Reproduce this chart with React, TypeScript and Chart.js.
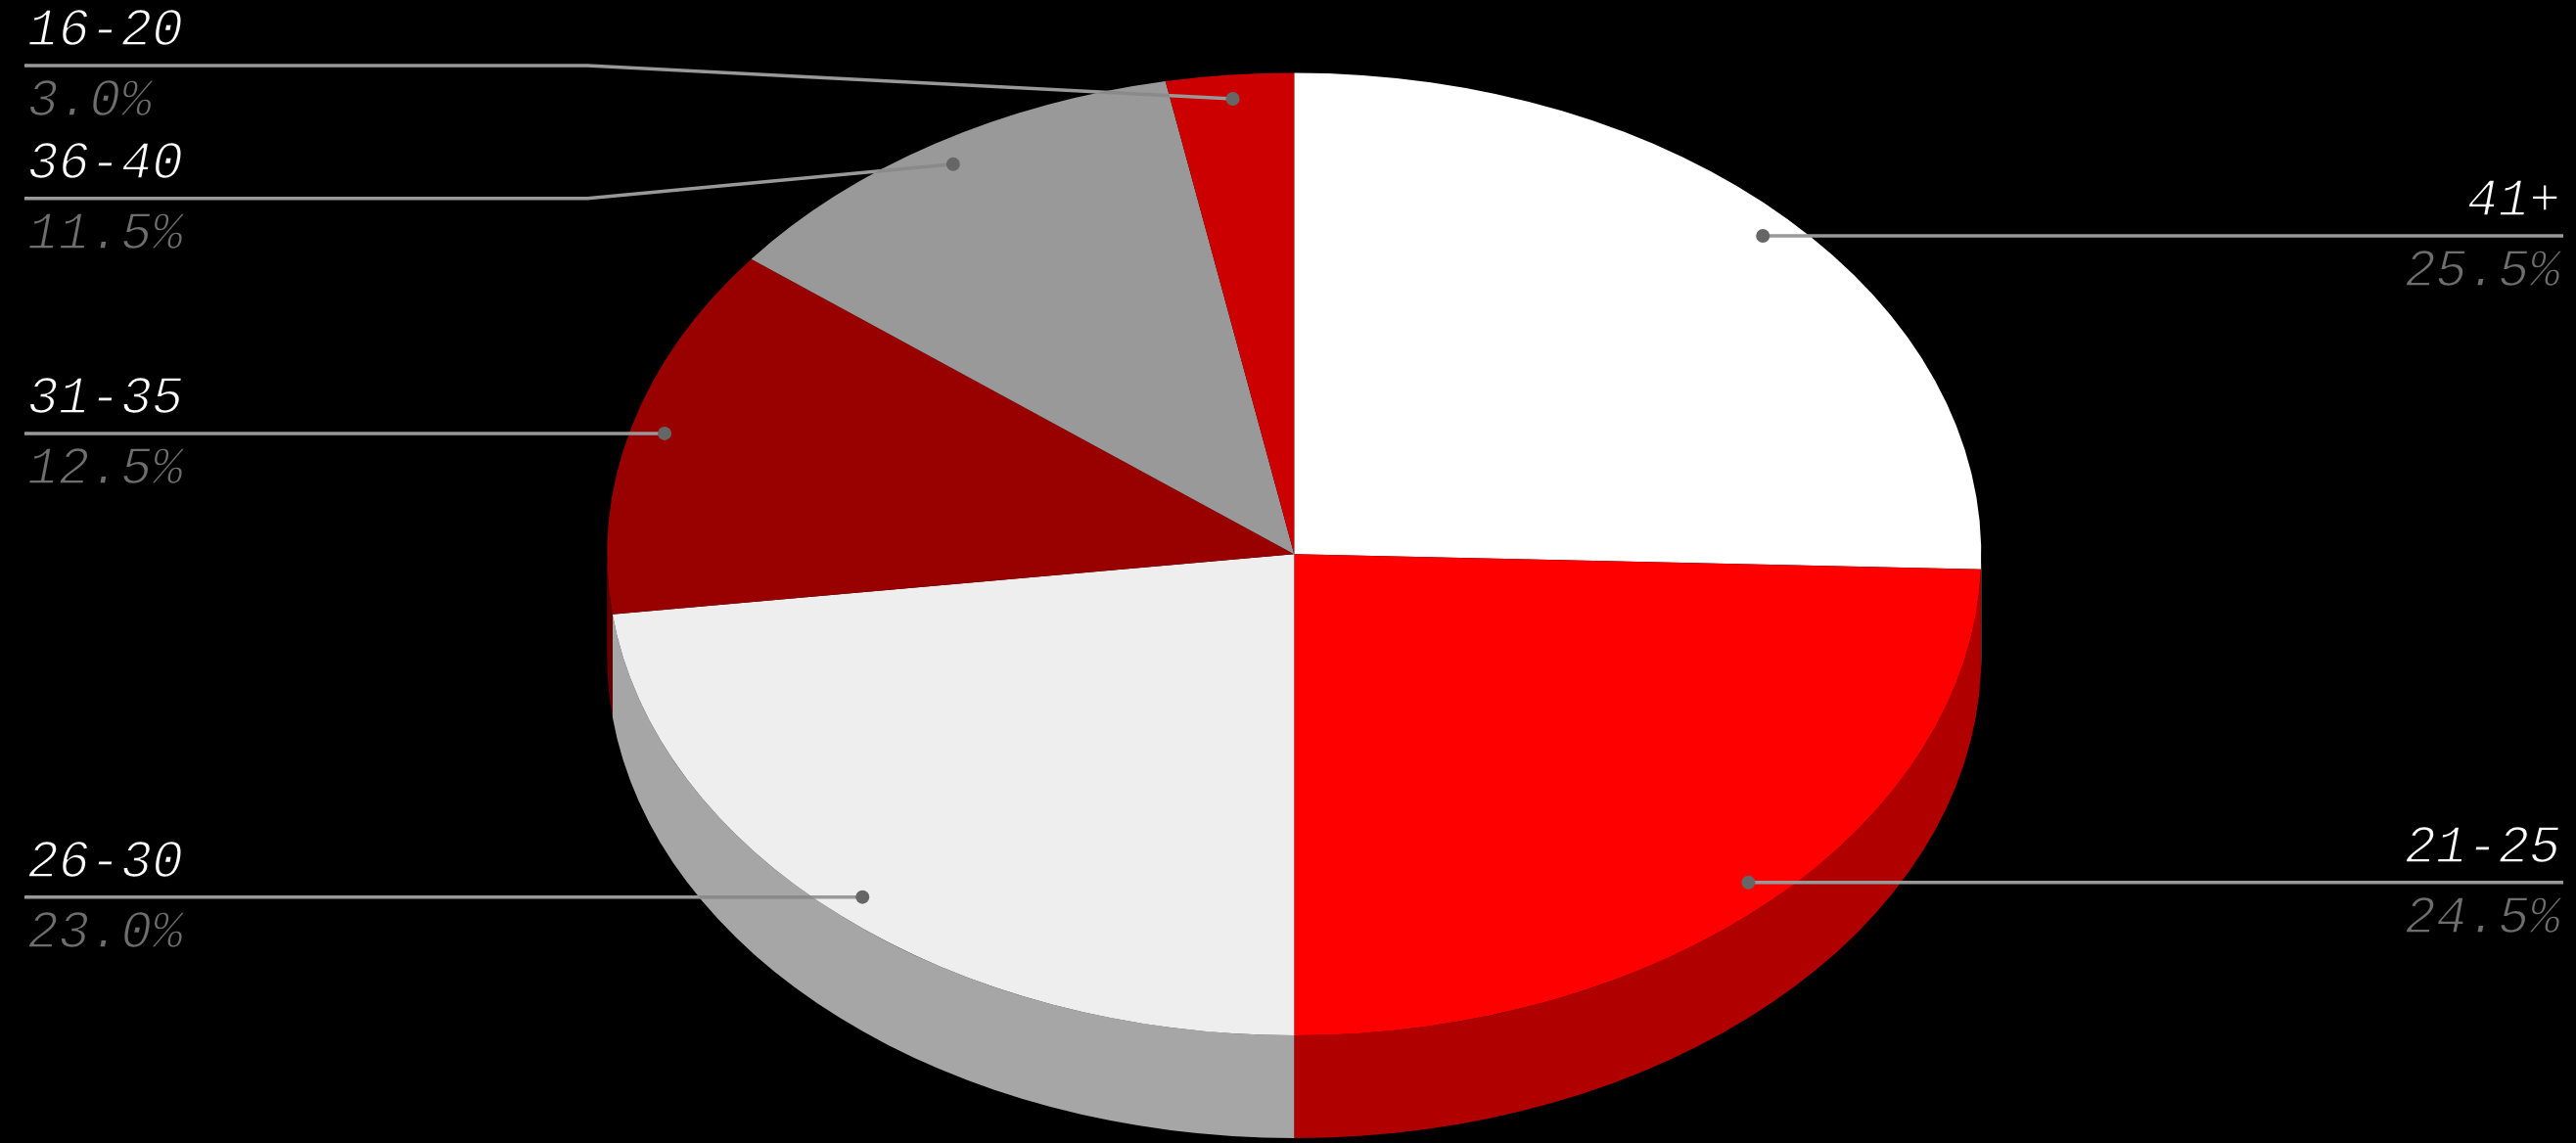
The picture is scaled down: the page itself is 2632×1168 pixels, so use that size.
import React, { useEffect, useRef } from "react";
import { Chart, registerables } from "chart.js";

Chart.register(...registerables);

// Age bands, clockwise from twelve o'clock, with their share in percent.
const ageBands = ["41+", "21-25", "26-30", "31-35", "36-40", "16-20"];
const shares = [25.5, 24.5, 23.0, 12.5, 11.5, 3.0];

const faceColors = ["#ffffff", "#ff0000", "#eeeeee", "#990000", "#999999", "#cc0000"];
const wallColors = ["#b2b2b2", "#b00000", "#a6a6a6", "#660000", "#6b6b6b", "#8e0000"];

// Vertical shift of a label rail away from its anchor dot, for the crowded top-left labels.
const railShifts = [0, 0, 0, 0, 35, -34];

const WIDTH = 2632;
const HEIGHT = 1168;

// Tilted disc geometry on the canvas.
const DISC = { cx: 1322.3, cy: 566.2, rx: 702, ry: 491.8, depth: 105 };
const ANCHOR_RADIUS = 0.95;
const RAIL = { left: 25, right: 2619, elbowLeft: 600 };
const FONT = 'italic 53px "Liberation Mono", monospace';

// Maps the circular pie the library lays out onto the tilted ellipse.
function applyTilt(ctx: CanvasRenderingContext2D, arc: any) {
  ctx.translate(DISC.cx, DISC.cy);
  ctx.scale(DISC.rx / arc.outerRadius, DISC.ry / arc.outerRadius);
  ctx.translate(-arc.x, -arc.y);
}

// Rim band of a slice; false when the slice lies wholly on the far side.
function traceWall(ctx: CanvasRenderingContext2D, arc: any) {
  const from = Math.max(arc.startAngle, 0);
  const to = Math.min(arc.endAngle, Math.PI);
  if (to <= from) return false;
  ctx.beginPath();
  ctx.ellipse(DISC.cx, DISC.cy, DISC.rx, DISC.ry, 0, from, to);
  ctx.ellipse(DISC.cx, DISC.cy + DISC.depth, DISC.rx, DISC.ry, 0, to, from, true);
  ctx.closePath();
  return true;
}

function traceFace(ctx: CanvasRenderingContext2D, arc: any) {
  ctx.beginPath();
  ctx.moveTo(DISC.cx, DISC.cy);
  ctx.ellipse(DISC.cx, DISC.cy, DISC.rx, DISC.ry, 0, arc.startAngle, arc.endAngle);
  ctx.closePath();
}

// Thin light-weight lettering: the glyph is filled, then its edge is pared back with the background colour.
function drawLabel(ctx: CanvasRenderingContext2D, text: string, x: number, y: number, color: string) {
  ctx.fillStyle = color;
  ctx.fillText(text, x, y);
  ctx.strokeStyle = "#000000";
  ctx.lineWidth = 1.5;
  ctx.lineJoin = "round";
  ctx.strokeText(text, x, y);
}

const tiltedPie = {
  id: "tiltedPie",
  beforeDatasetsDraw(chart: any) {
    const ctx: CanvasRenderingContext2D = chart.ctx;
    const arcs = chart.getDatasetMeta(0).data;

    // Side wall: only the part of each slice on the near half of the rim shows.
    arcs.forEach((arc: any, i: number) => {
      if (!traceWall(ctx, arc)) return;
      ctx.fillStyle = wallColors[i];
      ctx.fill();
    });

    ctx.save();
    applyTilt(ctx, arcs[0]);
  },
  afterDatasetsDraw(chart: any) {
    const ctx: CanvasRenderingContext2D = chart.ctx;
    ctx.restore();

    const arcs = chart.getDatasetMeta(0).data;
    arcs.forEach((arc: any, i: number) => {
      const mid = (arc.startAngle + arc.endAngle) / 2;
      const dotX = DISC.cx + Math.cos(mid) * DISC.rx * ANCHOR_RADIUS;
      const dotY = DISC.cy + Math.sin(mid) * DISC.ry * ANCHOR_RADIUS;
      const railY = dotY + railShifts[i];
      const onRight = dotX > DISC.cx;

      const strokeLeader = (color: string) => {
        ctx.strokeStyle = color;
        ctx.lineWidth = 3.5;
        ctx.beginPath();
        ctx.moveTo(dotX, dotY);
        if (onRight) {
          ctx.lineTo(RAIL.right, railY);
        } else {
          ctx.lineTo(RAIL.elbowLeft, railY);
          ctx.lineTo(RAIL.left, railY);
        }
        ctx.stroke();
      };
      strokeLeader("#999999");

      // The leader reads darker where it crosses the grey areas.
      ctx.save();
      traceFace(ctx, arcs[4]);
      ctx.clip();
      strokeLeader("#8a8a8a");
      ctx.restore();
      ctx.save();
      if (traceWall(ctx, arcs[2])) {
        ctx.clip();
        strokeLeader("#8a8a8a");
      }
      ctx.restore();

      ctx.fillStyle = "#666666";
      ctx.beginPath();
      ctx.arc(dotX, dotY, 7, 0, Math.PI * 2);
      ctx.fill();

      ctx.font = FONT;
      ctx.textAlign = onRight ? "right" : "left";
      ctx.textBaseline = "alphabetic";
      const textX = onRight ? RAIL.right - 3 : RAIL.left + 3;
      drawLabel(ctx, ageBands[i], textX, railY - 21, "#ffffff");
      drawLabel(ctx, shares[i].toFixed(1) + "%", textX, railY + 51, "#6e6e6e");
    });
  },
};

export default function App() {
  const canvasRef = useRef<HTMLCanvasElement>(null);

  useEffect(() => {
    const chart = new Chart(canvasRef.current as HTMLCanvasElement, {
      type: "pie",
      data: {
        labels: ageBands,
        datasets: [{ data: shares, backgroundColor: faceColors, borderWidth: 0 }],
      },
      options: {
        animation: false,
        responsive: false,
        devicePixelRatio: 1,
        events: [],
        layout: { padding: 0 },
        plugins: { legend: { display: false }, tooltip: { enabled: false } },
      },
      plugins: [tiltedPie],
    } as any);
    return () => chart.destroy();
  }, []);

  return (
    <div style={{ position: "fixed", left: 0, top: 0, width: WIDTH, height: HEIGHT, background: "#000000" }}>
      <canvas ref={canvasRef} width={WIDTH} height={HEIGHT} style={{ display: "block" }} />
    </div>
  );
}
